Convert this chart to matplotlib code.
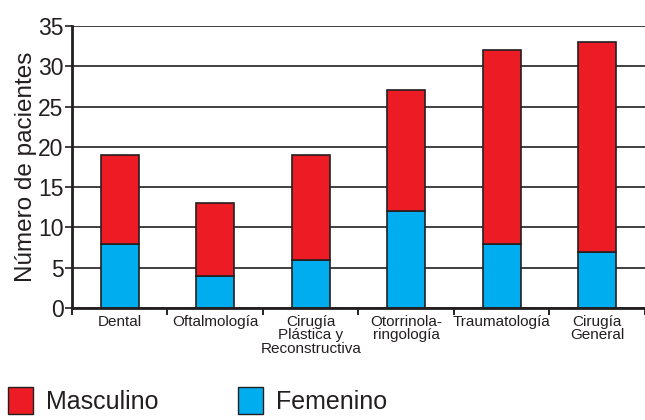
import numpy as np
import matplotlib.pyplot as plt
from matplotlib.patches import Patch

categorias = ["Dental", "Oftalmología", "Cirugía\nPlástica y\nReconstructiva",
              "Otorrinola-\nringología", "Traumatología", "Cirugía\nGeneral"]
femenino = [8, 4, 6, 12, 8, 7]
masculino = [11, 9, 13, 15, 24, 26]

rojo, azul = "#ed1c24", "#00aeef"
negro = "#231f20"

plt.rcParams['font.family'] = ['Liberation Sans', 'DejaVu Sans']

fig = plt.figure(figsize=(6.45, 4.2), dpi=100)
ax = fig.add_axes([0.1116, 0.2667, 0.8884, 0.6714])

x = np.arange(len(categorias))
ax.bar(x, femenino, width=0.4, color=azul, edgecolor=negro, linewidth=1.2, zorder=3)
ax.bar(x, masculino, width=0.4, bottom=femenino, color=rojo, edgecolor=negro,
       linewidth=1.2, zorder=3)

ax.set_ylim(0, 35)
ax.set_xlim(-0.5, 5.44)
ax.set_yticks(range(0, 36, 5))
ax.yaxis.grid(True, color=negro, linewidth=1.2, zorder=0)
ax.tick_params(axis="y", labelsize=16.5, length=5, width=1.2, pad=1, colors=negro)

ax.set_xticks(x)
ax.set_xticklabels(categorias, fontsize=11, linespacing=0.95, va="top", color=negro)
ax.tick_params(axis="x", length=0, pad=5)
ax.set_xticks(np.arange(-0.5, 6, 1), minor=True)
ax.tick_params(axis="x", which="minor", length=5, width=1.2, direction="out")

for s in ["top", "right"]:
    ax.spines[s].set_visible(False)
for s in ["left", "bottom"]:
    ax.spines[s].set_linewidth(2)
    ax.spines[s].set_color(negro)
    ax.spines[s].set_zorder(4)

ax.set_ylabel("Número de pacientes", fontsize=17.5, labelpad=1, color=negro)

handles = [Patch(facecolor=rojo, edgecolor=negro, label="Masculino"),
           Patch(facecolor=azul, edgecolor=negro, label="Femenino")]
fig.legend(handles=handles, loc="upper left", bbox_to_anchor=(8 / 645, 33 / 420), ncol=2,
           frameon=False, fontsize=18, handlelength=1.0, handleheight=1.3,
           columnspacing=3.2, handletextpad=0.5, borderpad=0, borderaxespad=0,
           labelcolor=negro)

fig.savefig("out.png", dpi=100)
